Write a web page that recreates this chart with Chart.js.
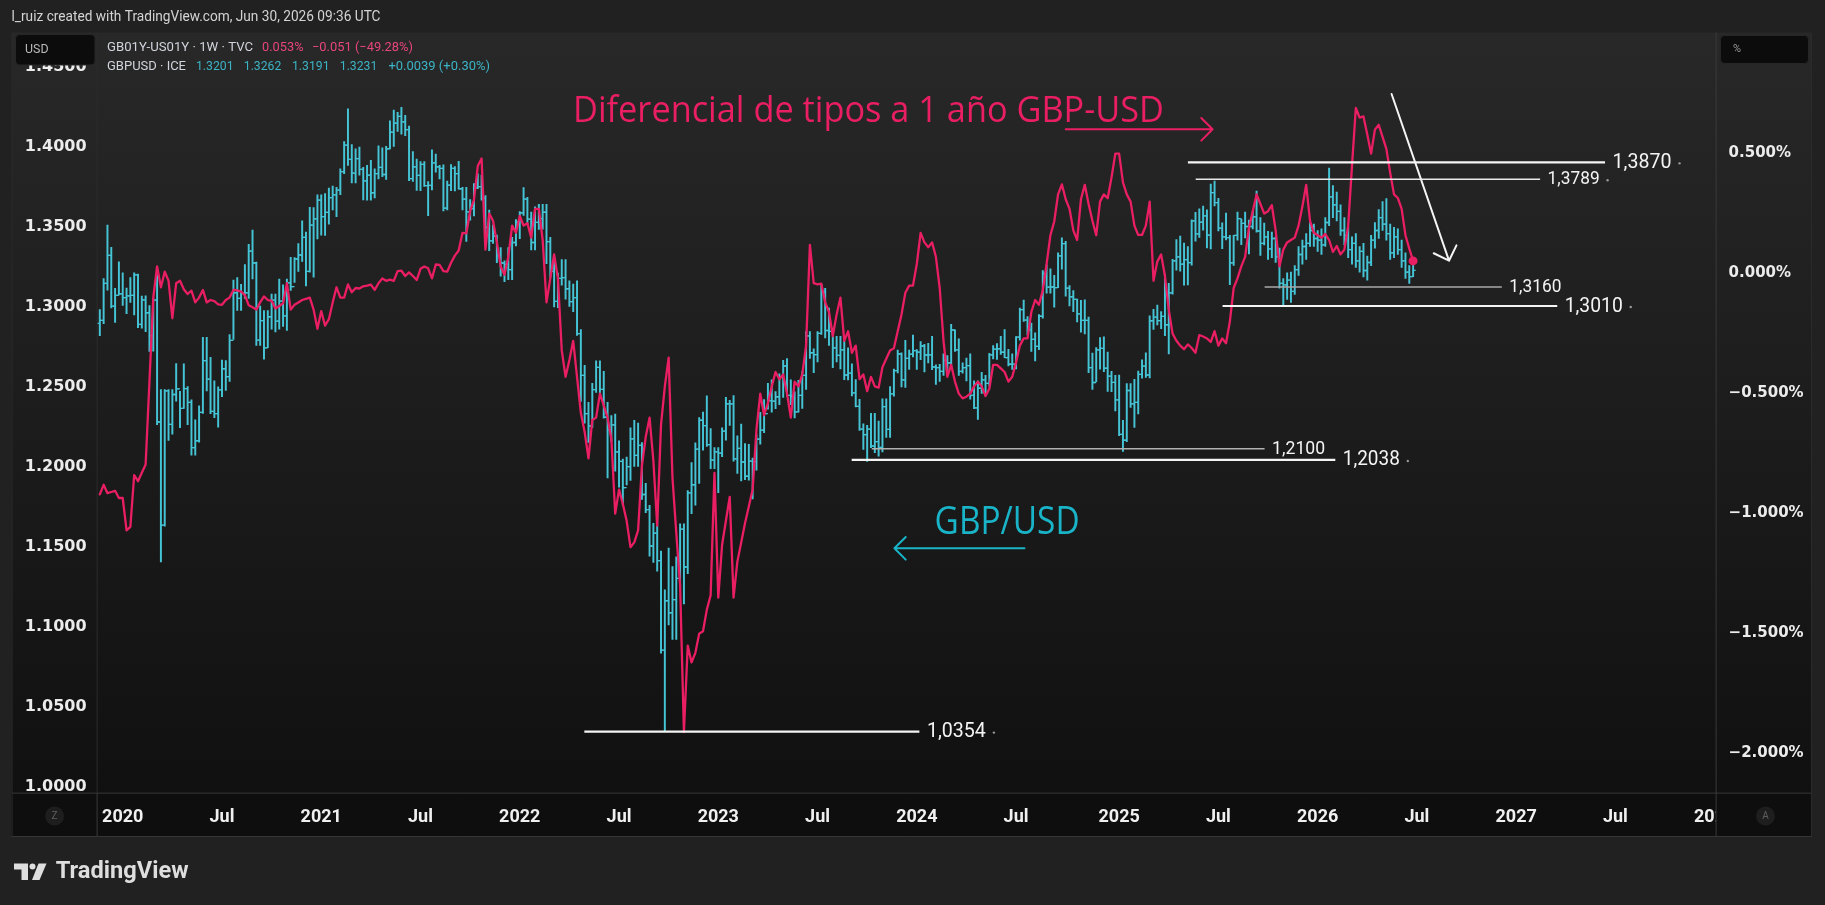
<!DOCTYPE html>
<html lang="es">
<head>
<meta charset="utf-8">
<title>GB01Y-US01Y vs GBPUSD</title>
<script src="https://cdn.jsdelivr.net/npm/chart.js@4.4.1/dist/chart.umd.min.js"></script>
<style>
html,body{margin:0;padding:0;background:#212121;overflow:hidden;}
canvas{display:block;}
</style>
</head>
<body>
<canvas id="chart" width="1825" height="905"></canvas>
<script>
// ================= DATA (weekly bars, first bar = week of 2019-11-25) =================
const firstWeek = '2019-11-25';
const firstOpen = 1.2899;

const gbpHigh = [
1.2985,1.3180,1.3514,1.3375,1.3119,1.3284,1.3215,1.3120,1.3185,1.3215,
1.3208,1.3070,1.3071,1.3010,1.3055,1.3200,1.2485,1.2486,1.2485,1.2485,
1.2648,1.2475,1.2647,1.2505,1.2422,1.2296,1.2384,1.2813,1.2813,1.2688,
1.2540,1.2503,1.2670,1.2667,1.2830,1.3170,1.3185,1.3143,1.3267,1.3394,
1.3482,1.3283,1.3007,1.2980,1.2980,1.3083,1.3082,1.3177,1.3140,1.3176,
1.3312,1.3310,1.3398,1.3540,1.3470,1.3625,1.3623,1.3703,1.3703,1.3710,
1.3745,1.3758,1.3750,1.3865,1.4035,1.4241,1.4017,1.3990,1.4001,1.3875,
1.3887,1.3919,1.3865,1.4009,1.3996,1.4006,1.4166,1.4233,1.4219,1.4250,
1.4200,1.4133,1.3973,1.3926,1.3910,1.3910,1.3785,1.3984,1.3958,1.3888,
1.3890,1.3789,1.3892,1.3880,1.3913,1.3750,1.3750,1.3674,1.3774,1.3834,
1.3826,1.3698,1.3607,1.3514,1.3452,1.3373,1.3290,1.3374,1.3437,1.3548,
1.3599,1.3749,1.3687,1.3595,1.3628,1.3644,1.3643,1.3644,1.3437,1.3299,
1.3214,1.3299,1.3299,1.3166,1.3145,1.3166,1.2860,1.2638,1.2406,1.2525,
1.2666,1.2666,1.2600,1.2406,1.2324,1.2332,1.2165,1.2051,1.2064,1.2246,
1.2294,1.2276,1.2155,1.1900,1.1762,1.1650,1.1738,1.1476,1.1234,1.1495,
1.1380,1.1440,1.1646,1.1646,1.1855,1.2029,1.2153,1.2311,1.2345,1.2446,
1.2242,1.2124,1.2123,1.2247,1.2437,1.2419,1.2448,1.2196,1.2270,1.2148,
1.2144,1.2057,1.2204,1.2343,1.2423,1.2525,1.2546,1.2474,1.2584,1.2668,
1.2680,1.2546,1.2472,1.2544,1.2599,1.2848,1.2848,1.2740,1.2849,1.3144,
1.3118,1.2995,1.2870,1.2818,1.2818,1.2790,1.2746,1.2646,1.2548,1.2425,
1.2271,1.2262,1.2337,1.2337,1.2289,1.2428,1.2428,1.2505,1.2614,1.2733,
1.2715,1.2793,1.2733,1.2827,1.2735,1.2785,1.2768,1.2775,1.2818,1.2640,
1.2644,1.2709,1.2699,1.2894,1.2859,1.2803,1.2653,1.2683,1.2709,1.2540,
1.2540,1.2594,1.2575,1.2712,1.2761,1.2773,1.2818,1.2860,1.2737,1.2709,
1.2817,1.2995,1.3045,1.2942,1.2902,1.2840,1.2954,1.3229,1.3265,1.3240,
1.3200,1.3340,1.3434,1.3412,1.3136,1.3104,1.3052,1.3044,1.3047,1.2939,
1.2714,1.2749,1.2811,1.2815,1.2720,1.2600,1.2575,1.2576,1.2293,1.2523,
1.2523,1.2550,1.2602,1.2672,1.2715,1.2946,1.2987,1.3014,1.2974,1.3207,
1.3150,1.3300,1.3423,1.3445,1.3402,1.3380,1.3547,1.3593,1.3616,1.3632,
1.3609,1.3770,1.3789,1.3681,1.3528,1.3589,1.3450,1.3450,1.3595,1.3552,
1.3595,1.3545,1.3600,1.3726,1.3560,1.3527,1.3475,1.3470,1.3440,1.3370,
1.3180,1.3215,1.3220,1.3260,1.3380,1.3420,1.3460,1.3530,1.3520,1.3480,
1.3490,1.3560,1.3870,1.3760,1.3720,1.3640,1.3560,1.3500,1.3440,1.3460,
1.3380,1.3400,1.3320,1.3450,1.3530,1.3610,1.3660,1.3680,1.3520,1.3500,
1.3490,1.3420,1.3340,1.3260,1.3262
];

const gbpLow = [
1.2822,1.2898,1.3107,1.2996,1.2905,1.3078,1.3012,1.2960,1.3030,1.2952,
1.2872,1.2870,1.2848,1.2725,1.2726,1.2267,1.1409,1.1632,1.2168,1.2207,
1.2414,1.2247,1.2368,1.2266,1.2076,1.2076,1.2157,1.2336,1.2478,1.2335,
1.2310,1.2251,1.2442,1.2480,1.2537,1.2800,1.2981,1.2980,1.3056,1.3056,
1.3177,1.2762,1.2762,1.2676,1.2747,1.2863,1.2846,1.2863,1.2881,1.2855,
1.3105,1.3155,1.3224,1.3287,1.3134,1.3220,1.3188,1.3428,1.3451,1.3450,
1.3520,1.3609,1.3566,1.3704,1.3835,1.3887,1.3777,1.3778,1.3826,1.3671,
1.3670,1.3669,1.3684,1.3803,1.3816,1.3799,1.3990,1.4006,1.4099,1.4082,
1.4072,1.3791,1.3786,1.3731,1.3729,1.3755,1.3572,1.3734,1.3844,1.3802,
1.3602,1.3608,1.3729,1.3727,1.3738,1.3609,1.3412,1.3544,1.3571,1.3742,
1.3669,1.3424,1.3354,1.3400,1.3279,1.3194,1.3160,1.3172,1.3172,1.3384,
1.3429,1.3574,1.3520,1.3359,1.3358,1.3487,1.3489,1.3272,1.3185,1.3002,
1.2997,1.3138,1.3051,1.3005,1.2973,1.2824,1.2411,1.2276,1.2155,1.2250,
1.2468,1.2459,1.2307,1.1934,1.2161,1.1976,1.1876,1.1760,1.1890,1.1918,
1.2005,1.2005,1.1800,1.1717,1.1444,1.1405,1.1351,1.0839,1.0354,1.1015,
1.0924,1.0925,1.1256,1.1146,1.1335,1.1710,1.1764,1.1900,1.2107,1.2130,
1.1992,1.1992,1.1841,1.2066,1.2170,1.2262,1.2039,1.1961,1.1915,1.1923,
1.1919,1.1803,1.1982,1.2145,1.2217,1.2364,1.2345,1.2366,1.2392,1.2437,
1.2444,1.2392,1.2308,1.2345,1.2368,1.2486,1.2681,1.2591,1.2659,1.2830,
1.2809,1.2761,1.2622,1.2658,1.2615,1.2548,1.2546,1.2446,1.2378,1.2231,
1.2111,1.2037,1.2123,1.2091,1.2070,1.2096,1.2187,1.2187,1.2445,1.2590,
1.2502,1.2500,1.2612,1.2690,1.2611,1.2672,1.2596,1.2653,1.2610,1.2518,
1.2536,1.2575,1.2575,1.2624,1.2725,1.2575,1.2588,1.2540,1.2426,1.2366,
1.2299,1.2462,1.2446,1.2508,1.2677,1.2675,1.2705,1.2685,1.2634,1.2612,
1.2615,1.2794,1.2912,1.2827,1.2725,1.2665,1.2735,1.2932,1.3088,1.3088,
1.3001,1.3122,1.3238,1.3069,1.3009,1.2973,1.2908,1.2844,1.2834,1.2592,
1.2487,1.2535,1.2613,1.2597,1.2475,1.2473,1.2353,1.2197,1.2100,1.2160,
1.2375,1.2249,1.2333,1.2557,1.2561,1.2558,1.2861,1.2890,1.2867,1.2822,
1.2708,1.3082,1.3232,1.3226,1.3139,1.3140,1.3263,1.3414,1.3437,1.3482,
1.3371,1.3365,1.3634,1.3477,1.3366,1.3421,1.3142,1.3262,1.3420,1.3391,
1.3434,1.3333,1.3490,1.3470,1.3325,1.3390,1.3300,1.3310,1.3280,1.3120,
1.3010,1.3050,1.3030,1.3080,1.3200,1.3270,1.3300,1.3380,1.3380,1.3350,
1.3330,1.3380,1.3510,1.3560,1.3540,1.3450,1.3390,1.3310,1.3270,1.3250,
1.3220,1.3190,1.3170,1.3260,1.3370,1.3430,1.3480,1.3420,1.3300,1.3310,
1.3330,1.3250,1.3180,1.3150,1.3191
];

const gbpClose = [
1.2918,1.3150,1.3325,1.3007,1.3075,1.3084,1.3061,1.3071,1.3075,1.3203,
1.2893,1.3046,1.2966,1.2822,1.3045,1.2283,1.1638,1.2478,1.2268,1.2455,
1.2490,1.2368,1.2492,1.2406,1.2123,1.2166,1.2343,1.2667,1.2551,1.2350,
1.2335,1.2484,1.2616,1.2567,1.2793,1.3091,1.3056,1.3087,1.3090,1.3351,
1.3277,1.2795,1.2917,1.2747,1.2941,1.3045,1.2913,1.3038,1.2947,1.3153,
1.3129,1.3302,1.3327,1.3437,1.3225,1.3514,1.3553,1.3670,1.3567,1.3593,
1.3686,1.3703,1.3732,1.3848,1.4013,1.3925,1.3839,1.3929,1.3862,1.3790,
1.3826,1.3716,1.3836,1.3874,1.3830,1.3991,1.4095,1.4151,1.4193,1.4159,
1.4110,1.3804,1.3878,1.3824,1.3893,1.3760,1.3762,1.3903,1.3878,1.3868,
1.3620,1.3763,1.3868,1.3836,1.3741,1.3676,1.3597,1.3617,1.3746,1.3754,
1.3682,1.3500,1.3415,1.3444,1.3326,1.3277,1.3268,1.3236,1.3405,1.3532,
1.3590,1.3676,1.3551,1.3405,1.3531,1.3554,1.3594,1.3410,1.3224,1.3037,
1.3181,1.3186,1.3116,1.3035,1.3060,1.2836,1.2574,1.2336,1.2258,1.2486,
1.2624,1.2487,1.2313,1.2234,1.2265,1.2096,1.2037,1.1873,1.2004,1.2178,
1.2074,1.2137,1.1830,1.1735,1.1508,1.1589,1.1417,1.0857,1.1166,1.1091,
1.1173,1.1306,1.1614,1.1377,1.1840,1.1891,1.2114,1.2294,1.2261,1.2142,
1.2045,1.2097,1.2089,1.2226,1.2397,1.2396,1.2053,1.2118,1.2033,1.1944,
1.2038,1.2035,1.2176,1.2232,1.2336,1.2417,1.2413,1.2441,1.2567,1.2633,
1.2449,1.2444,1.2347,1.2450,1.2575,1.2822,1.2716,1.2704,1.2837,1.3094,
1.2855,1.2849,1.2747,1.2699,1.2734,1.2577,1.2588,1.2465,1.2381,1.2239,
1.2204,1.2239,1.2133,1.2161,1.2124,1.2379,1.2237,1.2459,1.2604,1.2708,
1.2547,1.2681,1.2707,1.2729,1.2720,1.2758,1.2702,1.2703,1.2627,1.2623,
1.2600,1.2670,1.2652,1.2858,1.2734,1.2600,1.2623,1.2635,1.2450,1.2372,
1.2494,1.2546,1.2525,1.2703,1.2738,1.2741,1.2719,1.2686,1.2644,1.2645,
1.2813,1.2985,1.2920,1.2859,1.2799,1.2756,1.2944,1.3212,1.3126,1.3127,
1.3123,1.3321,1.3398,1.3120,1.3066,1.3049,1.2959,1.2918,1.2918,1.2623,
1.2530,1.2734,1.2743,1.2619,1.2570,1.2531,1.2422,1.2206,1.2169,1.2480,
1.2396,1.2406,1.2581,1.2632,1.2577,1.2916,1.2938,1.2917,1.2943,1.2891,
1.3090,1.3290,1.3315,1.3270,1.3298,1.3279,1.3540,1.3459,1.3532,1.3571,
1.3451,1.3717,1.3654,1.3495,1.3440,1.3436,1.3278,1.3450,1.3554,1.3525,
1.3505,1.3505,1.3565,1.3477,1.3400,1.3440,1.3365,1.3430,1.3315,1.3150,
1.3140,1.3170,1.3100,1.3235,1.3330,1.3380,1.3400,1.3480,1.3430,1.3420,
1.3390,1.3530,1.3690,1.3640,1.3600,1.3480,1.3450,1.3360,1.3400,1.3290,
1.3350,1.3230,1.3280,1.3420,1.3480,1.3560,1.3520,1.3460,1.3340,1.3440,
1.3360,1.3290,1.3220,1.3192,1.3231
];

// GB01Y-US01Y (%), weekly closes
const diff1y = [
-0.92,-0.88,-0.915,-0.91,-0.905,-0.935,-0.935,-1.07,-1.055,-0.84,
-0.865,-0.83,-0.795,-0.45,-0.1,0.03,-0.057,0.008,-0.03,-0.186,
-0.04,-0.03,-0.065,-0.085,-0.071,-0.12,-0.1,-0.068,-0.12,-0.11,
-0.115,-0.128,-0.13,-0.11,-0.1,-0.068,-0.07,-0.075,-0.09,-0.132,
-0.14,-0.15,-0.12,-0.095,-0.11,-0.113,-0.145,-0.135,-0.124,-0.04,
-0.15,-0.13,-0.12,-0.11,-0.105,-0.1,-0.15,-0.23,-0.156,-0.217,
-0.19,-0.12,-0.057,-0.1,-0.1,-0.045,-0.078,-0.06,-0.062,-0.053,
-0.05,-0.046,-0.068,-0.04,-0.02,-0.03,-0.025,-0.03,0.01,0.012,
-0.01,0.005,-0.01,-0.027,0.02,0.03,0.022,-0.02,0.038,0.036,
0.01,0.008,0.045,0.075,0.096,0.17,0.168,0.26,0.307,0.448,
0.48,0.1,0.25,0.22,0.13,0.03,-0.005,0.07,0.2,0.17,
0.24,0.2,0.21,0.15,0.27,0.27,0.14,-0.12,-0.02,0.08,
-0.02,-0.32,-0.43,-0.36,-0.28,-0.43,-0.58,-0.66,-0.77,-0.61,
-0.6,-0.5,-0.55,-0.6,-0.69,-1.0,-0.9,-0.96,-1.03,-1.14,
-1.12,-1.07,-0.8,-0.68,-0.6,-0.78,-1.05,-0.63,-0.47,-0.35,
-0.85,-1.08,-1.3,-1.91,-1.55,-1.62,-1.58,-1.5,-1.49,-1.4,
-1.34,-0.83,-1.35,-1.13,-1.03,-0.93,-1.35,-1.2,-1.12,-1.04,
-0.97,-0.9,-0.65,-0.5,-0.59,-0.54,-0.47,-0.41,-0.44,-0.42,
-0.5,-0.6,-0.45,-0.47,-0.42,-0.3,0.12,-0.04,-0.045,-0.042,
-0.12,-0.16,-0.26,-0.17,-0.1,-0.28,-0.24,-0.33,-0.3,-0.44,
-0.42,-0.49,-0.43,-0.47,-0.475,-0.39,-0.355,-0.32,-0.311,-0.24,
-0.17,-0.08,-0.05,-0.05,0.04,0.17,0.13,0.11,0.13,0.07,
-0.06,-0.28,-0.43,-0.38,-0.45,-0.5,-0.52,-0.513,-0.5,-0.47,
-0.45,-0.47,-0.51,-0.48,-0.38,-0.38,-0.395,-0.41,-0.45,-0.43,
-0.37,-0.3,-0.27,-0.27,-0.16,-0.11,-0.13,-0.07,0.04,0.16,
0.217,0.33,0.372,0.31,0.27,0.18,0.14,0.31,0.37,0.29,
0.22,0.16,0.3,0.33,0.314,0.4,0.5,0.5,0.38,0.33,
0.3,0.2,0.161,0.161,0.2,0.3,-0.03,0.05,0.08,-0.01,
-0.15,-0.25,-0.28,-0.3,-0.315,-0.295,-0.31,-0.33,-0.256,-0.262,
-0.27,-0.285,-0.24,-0.3,-0.27,-0.29,-0.2,-0.06,-0.02,0.03,
0.07,0.19,0.26,0.33,0.29,0.25,0.26,0.285,0.18,0.03,
0.1,0.13,0.14,0.15,0.2,0.28,0.37,0.22,0.17,0.16,
0.15,0.165,0.14,0.09,0.115,0.08,0.1,0.2,0.45,0.69,
0.65,0.655,0.58,0.5,0.6,0.62,0.57,0.52,0.42,0.33,
0.315,0.27,0.16,0.104,0.053
];

const xTickDates = ['2020-01-06','2020-07-06','2021-01-04','2021-07-05','2022-01-03','2022-07-04','2023-01-02','2023-07-03','2024-01-01','2024-07-01','2025-01-06','2025-07-07','2026-01-05','2026-07-06','2027-01-04','2027-07-05','2028-01-03'];
const xTickLabels = ['2020','Jul','2021','Jul','2022','Jul','2023','Jul','2024','Jul','2025','Jul','2026','Jul','2027','Jul','2028'];
const priceTicks = [1.00,1.05,1.10,1.15,1.20,1.25,1.30,1.35,1.40,1.45];
const pctTicks = [-2.0,-1.5,-1.0,-0.5,0.0,0.5];

// horizontal level drawings (price) and their labels
const levelValues = [1.3906, 1.3800, 1.3127, 1.3008, 1.2116, 1.2046, 1.0348];
const levelLabels = ['1,3870', '1,3789', '1,3160', '1,3010', '1,2100', '1,2038', '1,0354'];

// ================= HELPERS =================
const DAY = 864e5, YEAR = 365.25 * DAY, EPOCH = Date.UTC(2020, 0, 1);
const yrOf = s => 2020 + (Date.parse(s + 'T00:00:00Z') - EPOCH) / YEAR;
const x0 = yrOf(firstWeek);
const weekX = gbpClose.map((_, i) => x0 + i * 7 * DAY / YEAR);
const gbpOpen = gbpClose.map((c, i) => i === 0 ? firstOpen : gbpClose[i - 1]); // weekly FX open = prior close

const PINK = '#e91e63';
const CYAN = '#45c4d6';
const TEAL_TXT = '#19b4c8';

// layout frame (px)
const F = { fl: 11.6, fr: 1812, ft: 32.6, fb: 836, pl: 96.6, pr: 1715.6, pb: 792.6 };

function fitText(c, str, x, y, w, font, color, baseline) {
  c.save();
  c.font = font; c.fillStyle = color; c.textAlign = 'left'; c.textBaseline = baseline || 'middle';
  const m = c.measureText(str).width || 1;
  c.translate(x, y); c.scale(w / m, 1); c.fillText(str, 0, 0);
  c.restore();
}
function arrow(c, x1, y1, x2, y2, head, color, w) {
  c.save(); c.strokeStyle = color; c.lineWidth = w; c.lineCap = 'round'; c.lineJoin = 'round';
  c.beginPath(); c.moveTo(x1, y1); c.lineTo(x2, y2);
  const a = Math.atan2(y1 - y2, x1 - x2);
  c.moveTo(x2 + head * Math.cos(a + Math.PI / 4), y2 + head * Math.sin(a + Math.PI / 4));
  c.lineTo(x2, y2);
  c.lineTo(x2 + head * Math.cos(a - Math.PI / 4), y2 + head * Math.sin(a - Math.PI / 4));
  c.stroke(); c.restore();
}
function rrect(c, x, y, w, h, r) {
  c.beginPath(); c.moveTo(x + r, y); c.lineTo(x + w - r, y); c.quadraticCurveTo(x + w, y, x + w, y + r);
  c.lineTo(x + w, y + h - r); c.quadraticCurveTo(x + w, y + h, x + w - r, y + h);
  c.lineTo(x + r, y + h); c.quadraticCurveTo(x, y + h, x, y + h - r);
  c.lineTo(x, y + r); c.quadraticCurveTo(x, y, x + r, y); c.closePath();
}

// ================= ANNOTATIONS (drawn through chart scales) =================
const levelDraw = [
  { from: 2025.361, to: 2027.455, w: 2.2, color: '#f4f4f4', lw: 59, fs: 20, dot: true },
  { from: 2025.400, to: 2027.129, w: 1.4, color: '#e8e8e8', lw: 52, fs: 18, dot: true },
  { from: 2025.746, to: 2026.937, w: 1.4, color: '#a8a8a8', lw: 52, fs: 18, dot: false },
  { from: 2025.535, to: 2027.215, w: 2.2, color: '#f4f4f4', lw: 58, fs: 20, dot: true },
  { from: 2023.774, to: 2025.746, w: 1.4, color: '#b0b0b0', lw: 53, fs: 18, dot: false },
  { from: 2023.673, to: 2026.101, w: 2.2, color: '#f4f4f4', lw: 57, fs: 20, dot: true },
  { from: 2022.331, to: 2024.013, w: 2.2, color: '#f4f4f4', lw: 59, fs: 20, dot: true }
];
const arrowDraw = [
  { a: [2024.7475, 1.41125], b: [2025.4849, 1.41125], color: PINK, w: 2, head: 16 },
  { a: [2024.5407, 1.14937], b: [2023.8876, 1.14937], color: TEAL_TXT, w: 2, head: 16 },
  { a: [2026.3835, 1.43331], b: [2026.6717, 1.32913], color: '#f4f4f4', w: 2, head: 17 }
];
const textDraw = [
  { str: 'Diferencial de tipos a 1 año GBP-USD', x: 2022.2741, y: 1.4160, w: 591, font: '36px "Open Sans"', color: PINK },
  { str: 'GBP/USD', x: 2024.0894, y: 1.1585, w: 145, font: '38px "Open Sans"', color: TEAL_TXT }
];

const annotPlugin = {
  id: 'annot',
  afterDatasetsDraw(chart) {
    const c = chart.ctx, xs = chart.scales.x, ys = chart.scales.y;
    c.save();
    levelDraw.forEach((d, k) => {
      const py = ys.getPixelForValue(levelValues[k]);
      const xa = xs.getPixelForValue(d.from), xb = xs.getPixelForValue(d.to);
      c.strokeStyle = d.color; c.lineWidth = d.w;
      c.beginPath(); c.moveTo(xa, py); c.lineTo(xb, py); c.stroke();
      fitText(c, levelLabels[k], xb + 7.5, py + 0.5, d.lw, d.fs + 'px Roboto', '#f4f4f4');
      if (d.dot) { c.fillStyle = '#9a9a9a'; c.beginPath(); c.arc(xb + 7.5 + d.lw + 8, py + 1, 1.2, 0, Math.PI * 2); c.fill(); }
    });
    arrowDraw.forEach(a => {
      arrow(c, xs.getPixelForValue(a.a[0]), ys.getPixelForValue(a.a[1]),
               xs.getPixelForValue(a.b[0]), ys.getPixelForValue(a.b[1]), a.head, a.color, a.w);
    });
    textDraw.forEach(t => {
      fitText(c, t.str, xs.getPixelForValue(t.x), ys.getPixelForValue(t.y), t.w, t.font, t.color, 'alphabetic');
    });
    c.restore();
  }
};

const chromePlugin = {
  id: 'chrome',
  beforeDraw(chart) {
    const c = chart.ctx;
    c.save();
    c.fillStyle = '#212121'; c.fillRect(0, 0, 1825, 905);
    const g = c.createLinearGradient(0, F.ft, 0, F.fb);
    g.addColorStop(0, '#282828'); g.addColorStop(1, '#0f0f0f');
    c.fillStyle = g; c.fillRect(F.fl, F.ft, F.fr - F.fl, F.fb - F.ft);
    c.fillStyle = '#0e0e0e'; c.fillRect(F.fl, F.pb, F.fr - F.fl, F.fb - F.pb);
    c.restore();
  },
  afterDraw(chart) {
    const c = chart.ctx;
    c.save();
    // hide x labels that run under the right price scale
    c.fillStyle = '#0e0e0e'; c.fillRect(F.pr, F.pb + 1, F.fr - F.pr, F.fb - F.pb - 1);
    // separators
    const ln = (x1, y1, x2, y2, col) => { c.strokeStyle = col; c.lineWidth = 1; c.beginPath(); c.moveTo(x1, y1); c.lineTo(x2, y2); c.stroke(); };
    ln(F.pr + 0.5, F.ft, F.pr + 0.5, F.fb, '#3a3a3a');
    ln(F.fl, F.pb + 0.5, F.fr, F.pb + 0.5, '#3a3a3a');
    ln(F.pl + 0.5, F.pb, F.pl + 0.5, F.fb, '#3a3a3a');
    ln(F.pl + 0.5, F.ft, F.pl + 0.5, F.pb, '#2c2c2c');
    ln(F.fl, F.fb + 0.5, F.fr, F.fb + 0.5, '#353535');
    ln(F.fl + 0.5, F.ft, F.fl + 0.5, F.fb, '#2a2a2a');
    ln(F.fr - 0.5, F.ft, F.fr - 0.5, F.fb, '#2a2a2a');
    // Z / A buttons
    [[54.6, 'Z'], [1765.5, 'A']].forEach(([cx, ch]) => {
      c.fillStyle = '#1e1e1e'; c.beginPath(); c.arc(cx, 816, 9.5, 0, Math.PI * 2); c.fill();
      c.fillStyle = '#5f5f5f'; c.font = '10px Roboto'; c.textAlign = 'center'; c.textBaseline = 'middle';
      c.fillText(ch, cx, 816.5);
    });
    // scale boxes
    c.fillStyle = '#0c0c0c'; c.strokeStyle = '#262626'; c.lineWidth = 1;
    rrect(c, 15.5, 34.5, 79.5, 30.5, 4); c.fill(); c.stroke();
    rrect(c, 1720.5, 35.5, 88, 28, 4); c.fill(); c.stroke();
    fitText(c, 'USD', 25, 50, 23.5, '13px Roboto', '#b9b9b9');
    fitText(c, '%', 1733, 49, 8, '11px Roboto', '#9a9a9a');
    // header
    fitText(c, 'l_ruiz created with TradingView.com, Jun 30, 2026 09:36 UTC', 11.5, 17.5, 369, '15px Roboto', '#d4d4d4');
    // legend
    const L1 = 48, L2 = 66.5, LF = '13px Roboto', LC = '#d1d4dc', PV = '#e8457a', TV = '#3cb4c6';
    fitText(c, 'GB01Y-US01Y · 1W · TVC', 107, L1, 146, LF, LC);
    fitText(c, '0.053%', 262, L1, 41.5, LF, PV);
    fitText(c, '\u22120.051 (\u221249.28%)', 312, L1, 101, LF, PV);
    fitText(c, 'GBPUSD · ICE', 107, L2, 79, LF, LC);
    fitText(c, '1.3201', 196, L2, 37.5, LF, TV);
    fitText(c, '1.3262', 243.8, L2, 37.5, LF, TV);
    fitText(c, '1.3191', 292, L2, 37.5, LF, TV);
    fitText(c, '1.3231', 339.8, L2, 37.5, LF, TV);
    fitText(c, '+0.0039 (+0.30%)', 388.4, L2, 101.6, LF, TV);
    // TradingView logo
    c.fillStyle = '#dedede';
    c.beginPath(); c.moveTo(14, 863.5); c.lineTo(28, 863.5); c.lineTo(28, 880); c.lineTo(21.5, 880); c.lineTo(21.5, 869.5); c.lineTo(14, 869.5); c.closePath(); c.fill();
    c.beginPath(); c.arc(32.5, 866.5, 3, 0, Math.PI * 2); c.fill();
    c.beginPath(); c.moveTo(38.5, 863.5); c.lineTo(46.5, 863.5); c.lineTo(39.5, 880); c.lineTo(32, 880); c.closePath(); c.fill();
    fitText(c, 'TradingView', 55.7, 872, 133, 'bold 23px Roboto', '#dedede');
    c.restore();
  }
};

// ================= CHART =================
const X_MIN = 2019.88253, X_MAX = 2028.01004;
const pct = v => (v < 0 ? '\u2212' : '') + Math.abs(v).toFixed(3) + '%';

new Chart(document.getElementById('chart'), {
  type: 'bar',
  data: {
    datasets: [
      {
        type: 'line', label: 'GB01Y-US01Y',
        data: diff1y.map((v, i) => ({ x: weekX[i], y: v })),
        yAxisID: 'y1', xAxisID: 'x', order: 0,
        borderColor: PINK, borderWidth: 2.3, tension: 0,
        borderJoinStyle: 'round', borderCapStyle: 'round',
        pointRadius: ctx => ctx.dataIndex === diff1y.length - 1 ? 4.5 : 0,
        pointBackgroundColor: PINK, pointBorderWidth: 0
      },
      {
        type: 'bar', label: 'GBPUSD range',
        data: gbpHigh.map((h, i) => ({ x: weekX[i], y: [gbpLow[i], h] })),
        yAxisID: 'y', xAxisID: 'x', order: 3,
        backgroundColor: CYAN, borderWidth: 0, barThickness: 1.3
      },
      {
        type: 'scatter', label: 'open',
        data: gbpOpen.map((o, i) => ({ x: weekX[i], y: o })),
        yAxisID: 'y', xAxisID: 'x', order: 2,
        pointStyle: 'dash', pointRotation: 180, rotation: 180, pointRadius: 2.6, radius: 2.6,
        pointBorderColor: CYAN, borderColor: CYAN, pointBorderWidth: 1.3, borderWidth: 1.3
      },
      {
        type: 'scatter', label: 'close',
        data: gbpClose.map((v, i) => ({ x: weekX[i], y: v })),
        yAxisID: 'y', xAxisID: 'x', order: 1,
        pointStyle: 'dash', pointRotation: 0, rotation: 0, pointRadius: 2.6, radius: 2.6,
        pointBorderColor: CYAN, borderColor: CYAN, pointBorderWidth: 1.3, borderWidth: 1.3
      }
    ]
  },
  options: {
    responsive: false, animation: false, events: [],
    layout: { padding: { left: 11.6, right: 13, top: 32.6, bottom: 69 } },
    plugins: { legend: { display: false }, tooltip: { enabled: false } },
    scales: {
      x: {
        type: 'linear', position: 'bottom', min: X_MIN, max: X_MAX, bounds: 'data', offset: false,
        afterBuildTicks: s => { s.ticks = xTickDates.map(d => ({ value: yrOf(d) })); },
        afterFit: s => { s.height = 43.4; },
        ticks: {
          autoSkip: false, maxRotation: 0, minRotation: 0, padding: 14,
          color: '#f0f0f0', font: { family: 'Roboto', size: 18, weight: 'bold' },
          callback: (v, i) => xTickLabels[i]
        },
        grid: { display: false, drawTicks: false, offset: false }, border: { display: false }
      },
      y: {
        type: 'linear', position: 'left', min: 0.99669, max: 1.47169, bounds: 'data',
        afterBuildTicks: s => { s.ticks = priceTicks.map(v => ({ value: v })); },
        afterFit: s => { s.width = 85; },
        ticks: {
          autoSkip: false, padding: 10, color: '#ececec',
          font: { family: 'DejaVu Sans', size: 16, weight: 'bold' },
          callback: v => Number(v).toFixed(4)
        },
        grid: { display: false, drawTicks: false }, border: { display: false }
      },
      y1: {
        type: 'linear', position: 'right', min: -2.1625, max: 1.0042, bounds: 'data',
        afterBuildTicks: s => { s.ticks = pctTicks.map(v => ({ value: v })); },
        afterFit: s => { s.width = 96.4; },
        ticks: {
          autoSkip: false, padding: 13, color: '#ececec',
          font: { family: 'DejaVu Sans', size: 15, weight: 'bold' },
          callback: v => pct(Number(v))
        },
        grid: { display: false, drawTicks: false }, border: { display: false }
      }
    }
  },
  plugins: [chromePlugin, annotPlugin]
});
</script>
</body>
</html>
